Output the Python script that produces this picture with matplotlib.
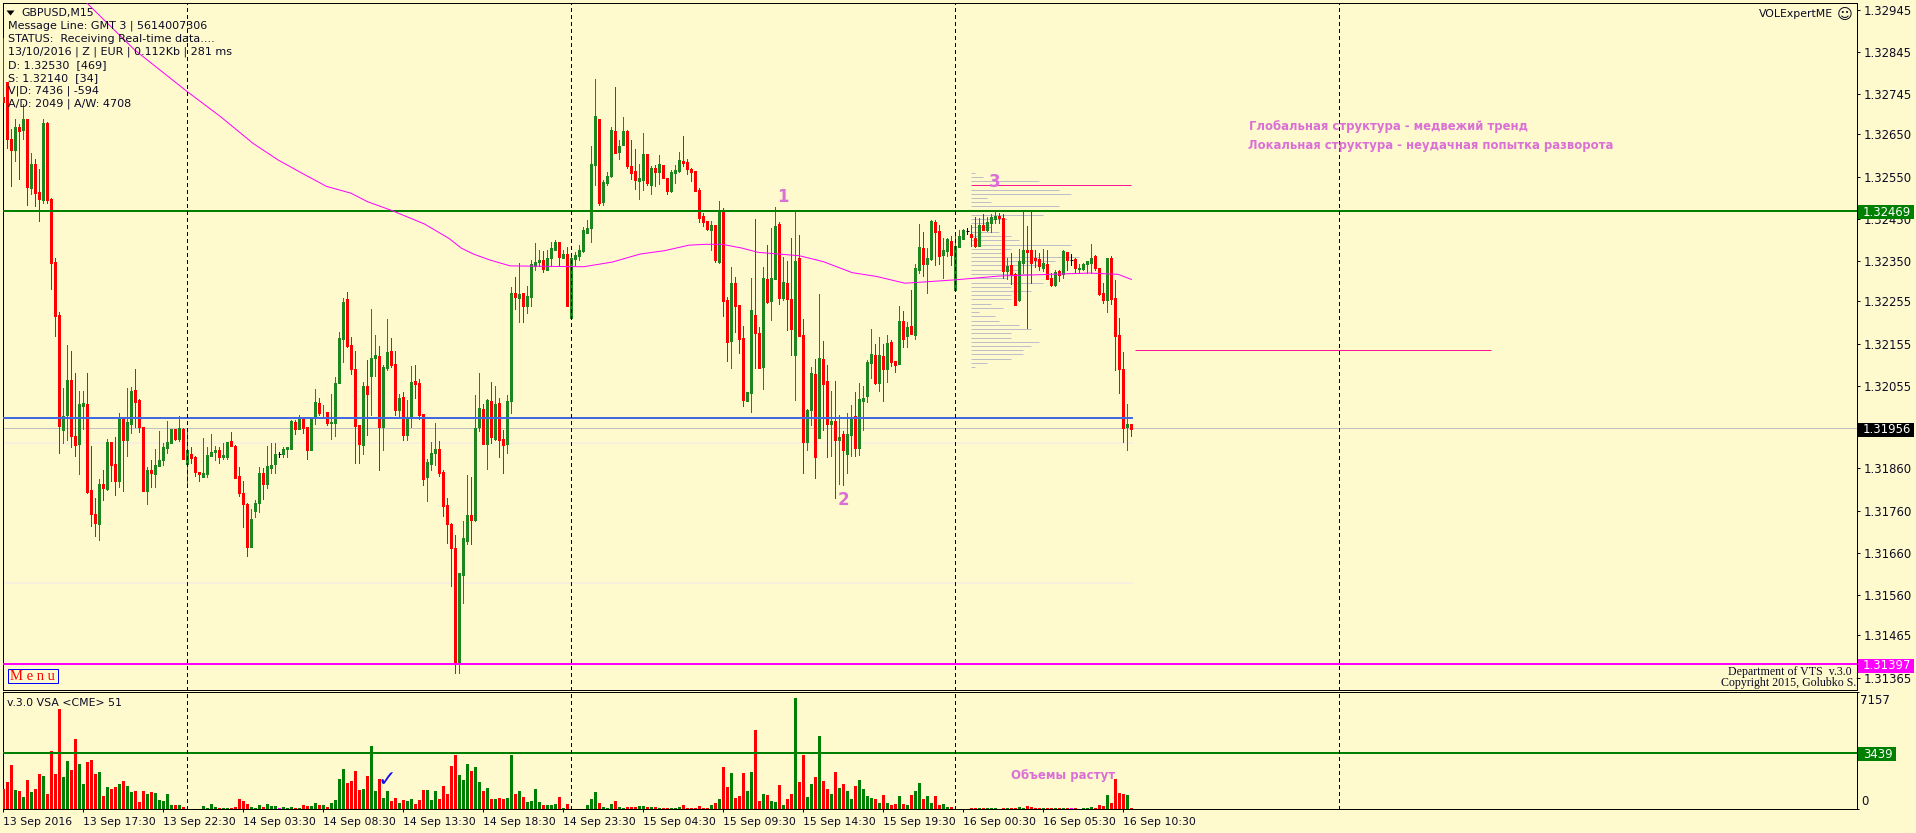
import numpy as np
import matplotlib
matplotlib.use("Agg")
import matplotlib.pyplot as plt
from matplotlib.patches import Polygon, Rectangle

W, H = 1916, 833
BG = "#FFFACD"
UP = "#1E861E"
DOWN = "#FF0000"
VOL_UP = "#008000"
INK = "#0A0A24"
NOTE = "#DA70D6"

# M15 candles, prices in points (1 point = 0.00001)
opens = [
    132739, 132774, 132638, 132613, 132667, 132660, 132686, 132523, 132581, 132513,
    132495, 132678, 132497, 132348, 132222, 131951, 131987, 132069, 131936, 131917,
    132007, 132012, 131809, 131752, 131728, 131823, 131812, 131922, 131870, 131831,
    131979, 131927, 131966, 132045, 132022, 131957, 131807, 131857, 131846, 131865,
    131881, 131908, 131921, 131952, 131930, 131954, 131870, 131895, 131887, 131851,
    131840, 131846, 131889, 131899, 131903, 131886, 131886, 131924, 131914, 131842,
    131801, 131775, 131674, 131760, 131777, 131848, 131823, 131862, 131870, 131895,
    131895, 131906, 131906, 131970, 131954, 131976, 131958, 131903, 131980, 132014,
    131991, 131993, 131968, 131968, 132062, 132167, 132260, 132152, 132095, 131962,
    131916, 132055, 132079, 132121, 132126, 131958, 132097, 132137, 132107, 131998,
    132029, 131939, 131979, 132066, 132062, 131988, 131839, 131870, 131896, 131905,
    131851, 131773, 131728, 131671, 131397, 131607, 131688, 131749, 131737, 131958,
    132000, 131917, 132019, 131929, 132014, 131929, 131917, 132019, 132275, 132263,
    132275, 132244, 132265, 132338, 132348, 132353, 132329, 132357, 132376, 132395,
    132357, 132367, 132215, 132355, 132362, 132375, 132417, 132429, 132578, 132686,
    132490, 132534, 132552, 132658, 132608, 132625, 132658, 132575, 132563, 132540,
    132542, 132604, 132530, 132570, 132561, 132578, 132547, 132516, 132559, 132563,
    132587, 132585, 132568, 132563, 132518, 132457, 132445, 132424, 132436, 132348,
    132471, 132258, 132161, 132298, 132246, 132168, 132019, 132038, 132223, 132180,
    132100, 132308, 132256, 132308, 132438, 132263, 132298, 132260, 132128, 132358,
    132175, 131922, 131998, 132083, 131932, 132119, 132066, 131965, 131972, 131927,
    131941, 131894, 131939, 131984, 131908, 132019, 132031, 132109, 132128, 132062,
    132126, 132095, 132159, 132114, 132107, 132209, 132173, 132197, 132176, 132329,
    132381, 132344, 132355, 132443, 132422, 132365, 132374, 132398, 132282, 132384,
    132403, 132422, 132415, 132405, 132386, 132436, 132424, 132441, 132450, 132457,
    132452, 132327, 132341, 132320, 132258, 132346, 132377, 132377, 132358, 132355,
    132334, 132344, 132310, 132294, 132327, 132320, 132372, 132353, 132355, 132332,
    132332, 132344, 132346, 132363, 132334, 132275, 132258, 132358, 132263, 132176,
    132095, 131958, 131965,
]
highs = [
    132878, 132774, 132662, 132686, 132675, 132723, 132686, 132605, 132591, 132567,
    132686, 132679, 132499, 132357, 132229, 132051, 132153, 132137, 132085, 132042,
    132042, 132085, 131913, 131790, 131836, 131856, 131929, 131923, 131935, 131990,
    131981, 132050, 132053, 132094, 132025, 131958, 131864, 131881, 131905, 131949,
    131919, 131973, 131954, 131954, 131984, 131955, 131952, 131910, 131889, 131852,
    131933, 131910, 131941, 131913, 131910, 131921, 131922, 131946, 131915, 131864,
    131829, 131777, 131765, 131786, 131864, 131860, 131913, 131919, 131919, 131899,
    131910, 131911, 131974, 131974, 131986, 131979, 131958, 131980, 132047, 132026,
    132010, 131993, 132036, 132076, 132182, 132262, 132277, 132170, 132137, 131962,
    132064, 132116, 132238, 132175, 132149, 132104, 132213, 132168, 132137, 132036,
    132040, 132021, 132102, 132104, 132071, 131988, 131882, 131922, 131967, 131924,
    131856, 131790, 131730, 131702, 131612, 131735, 131844, 131839, 132033, 132085,
    132012, 132024, 132064, 132055, 132026, 131950, 132033, 132289, 132312, 132346,
    132275, 132291, 132353, 132393, 132376, 132374, 132376, 132396, 132400, 132395,
    132376, 132383, 132367, 132372, 132388, 132432, 132447, 132622, 132780, 132686,
    132542, 132562, 132667, 132762, 132637, 132691, 132660, 132637, 132615, 132580,
    132653, 132604, 132575, 132578, 132601, 132578, 132547, 132566, 132578, 132608,
    132646, 132592, 132570, 132563, 132523, 132464, 132445, 132445, 132436, 132492,
    132476, 132265, 132336, 132313, 132246, 132197, 132040, 132310, 132450, 132194,
    132336, 132388, 132428, 132478, 132443, 132360, 132350, 132405, 132469, 132412,
    132213, 132000, 132100, 132119, 132272, 132161, 132104, 132043, 132066, 131986,
    131948, 131991, 132010, 132040, 132062, 132055, 132116, 132190, 132154, 132171,
    132154, 132176, 132164, 132114, 132244, 132232, 132206, 132282, 132344, 132438,
    132419, 132381, 132448, 132448, 132436, 132405, 132405, 132410, 132415, 132424,
    132426, 132429, 132436, 132455, 132452, 132462, 132455, 132462, 132467, 132464,
    132462, 132358, 132370, 132322, 132379, 132467, 132433, 132467, 132377, 132370,
    132379, 132377, 132322, 132329, 132329, 132377, 132372, 132367, 132358, 132344,
    132346, 132351, 132391, 132365, 132334, 132299, 132358, 132363, 132306, 132216,
    132135, 132012, 131965,
]
lows = [
    132727, 132619, 132528, 132588, 132545, 132640, 132483, 132509, 132481, 132446,
    132488, 132487, 132284, 132173, 131897, 131919, 131928, 131911, 131889, 131846,
    131954, 131801, 131723, 131700, 131690, 131785, 131809, 131831, 131797, 131816,
    131807, 131889, 131943, 131958, 131946, 131807, 131775, 131815, 131815, 131865,
    131867, 131897, 131919, 131927, 131925, 131883, 131821, 131872, 131842, 131831,
    131839, 131840, 131889, 131880, 131873, 131883, 131883, 131914, 131837, 131794,
    131722, 131653, 131674, 131744, 131757, 131788, 131813, 131850, 131850, 131886,
    131886, 131886, 131905, 131941, 131952, 131943, 131882, 131903, 131965, 131986,
    131980, 131962, 131929, 131936, 132062, 132112, 132148, 132083, 131872, 131872,
    131894, 131939, 131986, 132078, 131856, 131903, 132092, 132100, 131986, 131980,
    131927, 131927, 131958, 132026, 131976, 131820, 131782, 131856, 131868, 131842,
    131747, 131683, 131581, 131375, 131375, 131541, 131681, 131681, 131735, 131948,
    131917, 131858, 131920, 131927, 131887, 131849, 131896, 131991, 132237, 132206,
    132206, 132227, 132244, 132329, 132338, 132324, 132329, 132338, 132376, 132338,
    132357, 132244, 132215, 132341, 132353, 132372, 132416, 132395, 132530, 132483,
    132483, 132530, 132550, 132606, 132592, 132625, 132570, 132544, 132521, 132497,
    132518, 132530, 132509, 132528, 132533, 132547, 132509, 132514, 132535, 132561,
    132575, 132556, 132540, 132516, 132443, 132433, 132424, 132376, 132348, 132346,
    132220, 132114, 132097, 132182, 132133, 132007, 132019, 131993, 132097, 132097,
    132048, 132251, 132211, 132308, 132249, 132258, 132187, 132128, 132022, 132173,
    131849, 131903, 131962, 131837, 131932, 131951, 131887, 131889, 131790, 131823,
    131820, 131849, 131889, 131889, 131891, 131951, 132017, 132074, 132060, 132043,
    132019, 132064, 132102, 132088, 132107, 132147, 132147, 132178, 132166, 132322,
    132315, 132275, 132353, 132341, 132344, 132310, 132363, 132341, 132282, 132384,
    132403, 132415, 132386, 132384, 132386, 132424, 132422, 132419, 132441, 132441,
    132310, 132308, 132296, 132247, 132256, 132322, 132192, 132299, 132336, 132329,
    132327, 132308, 132292, 132292, 132303, 132310, 132329, 132341, 132322, 132322,
    132329, 132322, 132322, 132329, 132270, 132251, 132230, 132249, 132093, 132038,
    131922, 131903, 131937,
]
closes = [
    132727, 132640, 132613, 132667, 132659, 132686, 132526, 132581, 132512, 132497,
    132676, 132495, 132346, 132220, 131961, 131985, 132070, 131936, 131915, 132012,
    132015, 131804, 131753, 131730, 131823, 131813, 131922, 131868, 131831, 131981,
    131927, 131969, 132044, 132017, 131958, 131807, 131857, 131848, 131867, 131881,
    131910, 131922, 131952, 131930, 131955, 131883, 131903, 131884, 131851, 131846,
    131848, 131891, 131899, 131903, 131886, 131891, 131922, 131914, 131837, 131802,
    131775, 131674, 131741, 131777, 131848, 131823, 131865, 131869, 131894, 131895,
    131907, 131910, 131971, 131953, 131977, 131955, 131903, 131980, 132017, 131991,
    131992, 131968, 131969, 132063, 132168, 132253, 132149, 132095, 131960, 131917,
    132055, 132036, 132121, 132128, 131958, 132100, 132135, 132104, 131998, 132026,
    131939, 131981, 132064, 132059, 131986, 131834, 131875, 131896, 131905, 131849,
    131771, 131728, 131671, 131397, 131612, 131695, 131749, 131737, 131955, 132003,
    131917, 132021, 131934, 132012, 131927, 131915, 132019, 132275, 132265, 132272,
    132244, 132267, 132343, 132348, 132353, 132331, 132357, 132381, 132395, 132361,
    132367, 132244, 132357, 132365, 132376, 132424, 132428, 132580, 132693, 132487,
    132537, 132552, 132660, 132606, 132622, 132658, 132575, 132559, 132542, 132547,
    132604, 132535, 132570, 132561, 132580, 132547, 132516, 132561, 132566, 132589,
    132582, 132568, 132561, 132516, 132452, 132443, 132426, 132436, 132353, 132471,
    132256, 132159, 132298, 132244, 132166, 132022, 132040, 132234, 132180, 132097,
    132310, 132253, 132310, 132433, 132263, 132301, 132260, 132189, 132350, 132173,
    131922, 131998, 132085, 131887, 132121, 132059, 131965, 131972, 131927, 131934,
    131903, 131941, 131979, 131908, 132024, 132026, 132111, 132131, 132062, 132128,
    132095, 132157, 132112, 132105, 132209, 132166, 132195, 132178, 132334, 132384,
    132344, 132358, 132445, 132419, 132363, 132377, 132403, 132365, 132386, 132410,
    132424, 132422, 132407, 132386, 132436, 132424, 132443, 132455, 132457, 132452,
    132327, 132339, 132320, 132247, 132351, 132377, 132372, 132346, 132353, 132339,
    132346, 132308, 132294, 132325, 132318, 132374, 132353, 132353, 132334, 132334,
    132344, 132351, 132358, 132334, 132273, 132258, 132358, 132261, 132173, 132095,
    131956, 131965, 131953,
]
volumes = [
    1208, 1638, 2682, 1146, 1085, 716, 1760, 1024, 1208, 2129,
    2006, 901, 3541, 2129, 6121, 1945, 2927, 2375, 4278, 2743,
    1515, 2866, 2989, 2129, 2252, 778, 1331, 1208, 1331, 1515,
    1699, 1392, 1024, 1085, 409, 1085, 901, 1024, 962, 532,
    471, 901, 225, 225, 225, 102, 0, 0, 0, 0,
    164, 41, 287, 102, 41, 41, 41, 41, 102, 594,
    471, 287, 102, 41, 225, 102, 287, 164, 164, 41,
    102, 41, 102, 41, 41, 225, 164, 164, 348, 225,
    225, 102, 348, 532, 1822, 2436, 1576, 1699, 2313, 1146,
    1208, 2006, 3848, 1085, 1822, 655, 1085, 471, 655, 348,
    532, 471, 594, 287, 532, 1146, 1146, 532, 1085, 594,
    1392, 901, 2620, 3296, 2067, 1760, 2743, 2313, 2559, 1638,
    1085, 1269, 594, 594, 655, 594, 655, 3296, 901, 1085,
    716, 409, 471, 1208, 409, 225, 225, 225, 287, 716,
    41, 287, 0, 0, 0, 0, 225, 594, 1024, 348,
    102, 41, 287, 471, 102, 41, 102, 102, 102, 164,
    164, 102, 102, 102, 41, 41, 41, 41, 41, 102,
    225, 41, 41, 41, 164, 41, 41, 225, 348, 594,
    2559, 1331, 2190, 655, 778, 2190, 1085, 2252, 4831, 471,
    901, 839, 471, 409, 1453, 225, 594, 901, 6796, 1638,
    3296, 716, 1515, 1945, 4462, 1699, 1208, 901, 2252, 1269,
    1515, 1085, 594, 1392, 1760, 1208, 778, 655, 594, 348,
    839, 348, 225, 287, 778, 287, 225, 839, 1085, 1576,
    594, 778, 348, 778, 225, 287, 102, 102, 0, 0,
    0, 0, 41, 41, 41, 41, 41, 41, 41, 0,
    41, 41, 41, 41, 102, 41, 164, 102, 41, 41,
    61, 61, 61, 61, 61, 61, 61, 61, 61, 0,
    61, 61, 123, 61, 246, 184, 839, 348, 1822, 962,
    901, 839, 61,
]

# moving average, read as anchors along the curve
ma_bars = [20.1, 32.8, 46, 54.3, 62.4, 68.6, 74.7, 80.8, 86.9, 91, 97.1, 105.3, 111.4, 114.5,
           117.5, 121.6, 126.7, 145.1, 152.2, 159.2, 165.3, 171.4, 175.4, 179.7, 184.7, 188.7,
           199, 205, 212.2, 218.3, 225.4, 238, 249, 271.4, 278.7, 282]
ma_points = [132968, 132850, 132751, 132692, 132629, 132590, 132558, 132527, 132511, 132491,
             132470, 132438, 132404, 132381, 132367, 132353, 132339, 132337, 132348, 132367,
             132375, 132388, 132390, 132390, 132381, 132371, 132363, 132349, 132323, 132314,
             132298, 132306, 132315, 132322, 132319, 132307]

# volume profile on the right of the second day
profile_points = [132558, 132549, 132539, 132518, 132508, 132499, 132489, 132480, 132459,
                  132449, 132440, 132430, 132419, 132409, 132400, 132388, 132378, 132369,
                  132359, 132350, 132340, 132329, 132319, 132310, 132298, 132288, 132279,
                  132269, 132260, 132248, 132239, 132229, 132220, 132208, 132198, 132189,
                  132180, 132168, 132158, 132149, 132139, 132130, 132118, 132109, 132099]
profile_counts = [1, 3, 17, 22, 25, 4, 5, 22, 18, 9, 4, 5, 7, 10, 12, 25, 10, 8, 27, 21, 19,
                  12, 15, 9, 18, 10, 15, 10, 10, 5, 8, 2, 6, 7, 12, 15, 10, 10, 17, 15, 13,
                  13, 10, 4, 1]

price_ticks = ["1.32945", "1.32845", "1.32745", "1.32650", "1.32550", "1.32450", "1.32350",
               "1.32255", "1.32155", "1.32055", "1.31955", "1.31860", "1.31760", "1.31660",
               "1.31560", "1.31465", "1.31365"]
time_labels = ["13 Sep 2016", "13 Sep 17:30", "13 Sep 22:30", "14 Sep 03:30", "14 Sep 08:30",
               "14 Sep 13:30", "14 Sep 18:30", "14 Sep 23:30", "15 Sep 04:30", "15 Sep 09:30",
               "15 Sep 14:30", "15 Sep 19:30", "16 Sep 00:30", "16 Sep 05:30", "16 Sep 10:30"]
day_bars = [46, 142, 238, 334]

info_lines = ["Message Line: GMT 3 | 5614007306", "STATUS:  Receiving Real-time data....",
              "13/10/2016 | Z | EUR | 0.112Kb | 281 ms", "D: 1.32530  [469]", "S: 1.32140  [34]",
              "V|D: 7436 | -594", "A/D: 2049 | A/W: 4708"]

opens = np.array(opens) / 1e5
highs = np.array(highs) / 1e5
lows = np.array(lows) / 1e5
closes = np.array(closes) / 1e5
bars = np.arange(len(opens))
up = closes > opens
down = closes < opens
doji = closes == opens


def fx(x):
    return x / W


def fy(y):
    return 1 - y / H


def px_lw(n):
    return n * 72 / 100


def add_tag(y, x0, x1, label, color):
    fig.add_artist(Rectangle((fx(x0), fy(y + 8)), (x1 - x0) / W, 14 / H,
                             transform=fig.transFigure, color=color, lw=0, zorder=8))
    fig.text(fx(x0 + 5), fy(y + 1), label, color="white", fontsize=8.4, va="center", zorder=9)


fig = plt.figure(figsize=(W / 100, H / 100), dpi=100, facecolor=BG)
ax = fig.add_axes([fx(2.5), fy(689.5), (1857 - 2.5) / W, (689.5 - 2.5) / H], facecolor=BG)
vol = fig.add_axes([fx(2.5), fy(809), (1857 - 2.5) / W, (809 - 691.5) / H], facecolor=BG)

for a in (ax, vol):
    a.set_xlim(-0.21, 463.4)
    for s in a.spines.values():
        s.set_linewidth(px_lw(1))
        s.set_color("black")
    for d in day_bars:
        a.axvline(d, color="black", lw=px_lw(1), dashes=(3, 3), zorder=6, antialiased=False)

# price pane
ax.set_ylim(1.31337, 1.32962)
ax.yaxis.tick_right()
ax.set_yticks([float(t) for t in price_ticks], price_ticks)
ax.tick_params(axis="y", length=2.2, width=px_lw(1), pad=2.5, labelsize=8.4, labelcolor=INK)
ax.set_xticks([])

ax.hlines(np.array(profile_points) / 1e5, 242, 242 + np.array(profile_counts),
          color="#BEBEC8", lw=px_lw(1), zorder=1)
ax.hlines([1.31921, 1.31589], -1, 282.3, color="#F8F0DC", lw=px_lw(2), zorder=1)

for mask, c in ((up, UP), (down, DOWN), (doji, "black")):
    ax.vlines(bars[mask], lows[mask], highs[mask], color=c, lw=px_lw(1), zorder=3,
              capstyle="butt", antialiased=False)
for mask, c in ((up, UP), (down, DOWN)):
    ax.vlines(bars[mask], opens[mask], closes[mask], color=c, lw=px_lw(3), zorder=3,
              capstyle="butt", antialiased=False)
ax.hlines(opens[doji], bars[doji] - 0.4, bars[doji] + 0.4, color="black", lw=px_lw(1), zorder=3)

ax.plot(ma_bars, np.array(ma_points) / 1e5, color="#FF00FF", lw=px_lw(1), zorder=5)
ax.axhline(1.32469, color=VOL_UP, lw=px_lw(2), zorder=4)
ax.axhline(1.31956, color="#C0C0C0", lw=px_lw(1), zorder=2)
ax.axhline(1.31397, color="#FF00FF", lw=px_lw(2), zorder=4)
ax.hlines(1.31980, -1, 282.3, color="#4169E1", lw=px_lw(2), zorder=4)
ax.hlines(1.32530, 242, 282, color="#FF1493", lw=px_lw(1), zorder=4)
ax.hlines(1.32140, 283, 372, color="#FF1493", lw=px_lw(1), zorder=4)

# volume pane
vol.set_ylim(-5, 7190)
vol.set_yticks([0, 7157], [])
vol.yaxis.tick_right()
vol.tick_params(axis="y", length=1.5, width=px_lw(1))
vol.set_xticks(np.arange(0, 300, 20), time_labels)
vol.tick_params(axis="x", length=2.5, width=px_lw(1), pad=3, labelsize=7.8, labelcolor=INK)
for t in vol.get_xticklabels():
    t.set_ha("left")

volumes = np.array(volumes)
vol_colors = np.where(up, VOL_UP, np.where(down, DOWN, "#FF00FF"))
vol.bar(bars, volumes, width=0.75, color=vol_colors, lw=0, zorder=3)
vol.axhline(3439, color=VOL_UP, lw=px_lw(2), zorder=4)

# tags on the right scale
add_tag(211, 1858, 1914, "1.32469", VOL_UP)
add_tag(428.7, 1858, 1914, "1.31956", "black")
add_tag(664.5, 1858, 1914, "1.31397", "#FF00FF")
add_tag(753, 1858, 1896, "3439", VOL_UP)
fig.text(fx(1860), fy(700.7), "7157", fontsize=8.4, color=INK, va="center")
fig.text(fx(1861), fy(801.7), "0", fontsize=8.4, color=INK, va="center")

# header and notes
fig.add_artist(Polygon([[fx(6.5), fy(10.5)], [fx(14.5), fy(10.5)], [fx(10.5), fy(15.5)]],
                       transform=fig.transFigure, color="black", lw=0))
fig.text(fx(21), fy(12.7), "GBPUSD,M15", fontsize=7.8, color=INK, va="center", zorder=9)
for n, line in enumerate(info_lines):
    fig.text(fx(8), fy(25.7 + 13 * n), line, fontsize=8, color=INK, va="center", zorder=9)
fig.text(fx(1833), fy(13.7), "VOLExpertME", fontsize=7.8, color=INK, ha="right", va="center")
fig.text(fx(1845), fy(14), "\u263a", fontsize=11, color=INK, ha="center", va="center")
fig.text(fx(7), fy(702.7), "v.3.0 VSA <CME> 51", fontsize=7.8, color=INK, va="center", zorder=9)

fig.text(fx(1249), fy(126.7), "Глобальная структура - медвежий тренд", fontsize=8.35,
         fontweight="bold", color=NOTE, va="center", zorder=9)
fig.text(fx(1248), fy(145.7), "Локальная структура - неудачная попытка разворота", fontsize=8.4,
         fontweight="bold", color=NOTE, va="center", zorder=9)
fig.text(fx(1011), fy(775), "Объемы растут", fontsize=8.5, fontweight="bold", color=NOTE,
         va="center", zorder=9)
for x, y, s in ((783, 197, "1"), (843, 500, "2"), (995, 182, "3")):
    fig.text(fx(x), fy(y), s, fontsize=12, fontweight="bold", color=NOTE, ha="center",
             va="center", zorder=9)
fig.text(fx(387), fy(780), "\u2713", fontsize=16, color="#1010F0", ha="center", va="center", zorder=9)

fig.add_artist(Rectangle((fx(8), fy(683)), 49.5 / W, 14 / H, transform=fig.transFigure,
                         fill=False, edgecolor="#0000FF", lw=px_lw(1), zorder=9))
fig.text(fx(32.7), fy(676), "M e n u", family="Liberation Serif", fontsize=10.5, color="#FF0000",
         ha="center", va="center", zorder=9)

ax.text(fx(1852), fy(672), "Department of VTS  v.3.0", family="Liberation Serif", fontsize=8.6,
        color=INK, ha="right", va="center", transform=fig.transFigure, zorder=9)
ax.text(fx(1721), fy(683), "Copyright 2015, Golubko S.V.", family="Liberation Serif", fontsize=8.6,
        color=INK, ha="left", va="center", transform=fig.transFigure, clip_on=True, zorder=9)

fig.savefig("out.png", dpi=100, facecolor=BG)
